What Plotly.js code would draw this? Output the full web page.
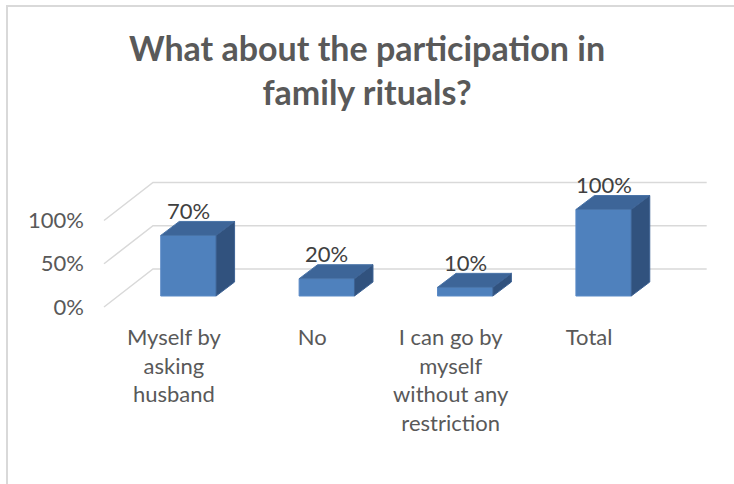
<!DOCTYPE html>
<html>
<head>
<meta charset="utf-8">
<script src="https://cdn.plot.ly/plotly-3.0.1.min.js"></script>
<style>
  html, body { margin: 0; padding: 0; background: #fff; }
  #wrap { position: relative; width: 734px; height: 484px; }
  #chart { position: absolute; left: 0; top: 0; width: 734px; height: 484px; }
  #frame { position: absolute; left: 6px; top: 5px; width: 728px; height: 479px;
           border-left: 2px solid #d9d9d9; border-top: 2px solid #d9d9d9; pointer-events: none; }
</style>
</head>
<body>
<div id="wrap"><div id="chart"></div><div id="frame"></div></div>
<script>
// ---- data ----
const categories = ["Myself by asking husband", "No", "I can go by myself without any restriction", "Total"];
const tickLabels = ["Myself by<br>asking<br>husband", "No", "I can go by<br>myself<br>without any<br>restriction", "Total"];
const values = [0.70, 0.20, 0.10, 1.00];
const dataLabels = ["70%", "20%", "10%", "100%"];
const yTickVals = [0, 0.5, 1];
const yTickText = ["0%", "50%", "100%"];
const titleText = "What about the participation in<br>family rituals?";

// ---- geometry (pixels) ----
const W = 734, H = 484;
const L = 85, R = 714, T = 160, B = 322;
const xOrigin = 188.4, xUnit = 138.4;   // px of category 0, px per category
const yOrigin = 296, yUnit = 86.5;      // px of value 0 (bar floor), px per 100%
const barW = 0.4;
const depthDx = 18.5 / xUnit, depthDy = 14 / yUnit;     // bar depth
const frontDy = 11 / yUnit;                              // front floor below bar floor
const backDy = 27 / yUnit;                               // back wall above bar floor
const xFrontLeft = (104 - xOrigin) / xUnit;
const xBackLeft = (153 - xOrigin) / xUnit;
const xBackRight = (706.7 - xOrigin) / xUnit;
const labelShift = 14.5 / xUnit;

const xr = [(L - xOrigin) / xUnit, (R - xOrigin) / xUnit];
const yr = [-(B - yOrigin) / yUnit, (yOrigin - T) / yUnit];

const xs = categories.map((_, i) => i);
const textColor = "#595959";
const font = "Lato, 'Open Sans', sans-serif";

const traces = [];
// front faces
traces.push({
  type: "bar", x: xs, y: values, width: barW,
  marker: { color: "#4F81BD", line: { color: "#5a8ac6", width: 1 } },
  hoverinfo: "skip", showlegend: false
});
// top and side faces
values.forEach((v, i) => {
  const x0 = i - barW / 2, x1 = i + barW / 2;
  traces.push({
    type: "scatter", mode: "lines", fill: "toself",
    x: [x0, x1, x1 + depthDx, x0 + depthDx, x0],
    y: [v, v, v + depthDy, v + depthDy, v],
    fillcolor: "#3d6598", line: { color: "#4a74a8", width: 1 },
    hoverinfo: "skip", showlegend: false
  });
  traces.push({
    type: "scatter", mode: "lines", fill: "toself",
    x: [x1, x1 + depthDx, x1 + depthDx, x1, x1],
    y: [0, depthDy, v + depthDy, v, 0],
    fillcolor: "#31527e", line: { color: "#3d6294", width: 1 },
    hoverinfo: "skip", showlegend: false
  });
});
// helper trace for secondary axes (labels)
traces.push({ type: "scatter", x: [0], y: [0], xaxis: "x2", yaxis: "y2", mode: "markers",
  marker: { opacity: 0 }, hoverinfo: "skip", showlegend: false });

// gridlines as shapes
const shapes = yTickVals.map(g => ({
  type: "path", xref: "x", yref: "y", layer: "below",
  path: `M ${xFrontLeft},${g - frontDy} L ${xBackLeft},${g + backDy} L ${xBackRight},${g + backDy}`,
  line: { color: "#d9d9d9", width: 1.5 }
}));

const annotations = values.map((v, i) => ({
  x: i, y: v, xref: "x", yref: "y", text: dataLabels[i], showarrow: false,
  yanchor: "middle", xanchor: "center", yshift: 25,
  font: { family: font, size: 22, color: "#404040" }
}));

const layout = {
  width: W, height: H,
  margin: { l: L, r: W - R, t: T, b: H - B, pad: 0 },
  paper_bgcolor: "#fff", plot_bgcolor: "rgba(0,0,0,0)",
  showlegend: false,
  title: {
    text: titleText, x: 0.5, xanchor: "center", y: 0.874, yanchor: "top", yref: "container",
    font: { family: font, size: 34, color: textColor, weight: 700 }
  },
  xaxis: { range: xr, showticklabels: false, showgrid: false, zeroline: false, showline: false, fixedrange: true },
  yaxis: { range: yr, showticklabels: false, showgrid: false, zeroline: false, showline: false, fixedrange: true },
  xaxis2: {
    overlaying: "x", range: [xr[0] + labelShift, xr[1] + labelShift],
    tickmode: "array", tickvals: xs, ticktext: tickLabels, ticks: "",
    showgrid: false, zeroline: false, showline: false,
    tickfont: { family: font, size: 22, color: textColor }
  },
  yaxis2: {
    overlaying: "y", side: "left", range: [yr[0] + frontDy, yr[1] + frontDy],
    tickmode: "array", tickvals: yTickVals, ticktext: yTickText, ticks: "",
    showgrid: false, zeroline: false, showline: false,
    tickfont: { family: font, size: 22, color: textColor }
  },
  shapes: shapes,
  annotations: annotations,
  bargap: 0
};

Plotly.newPlot("chart", traces, layout, { staticPlot: true, displayModeBar: false });
</script>
</body>
</html>
